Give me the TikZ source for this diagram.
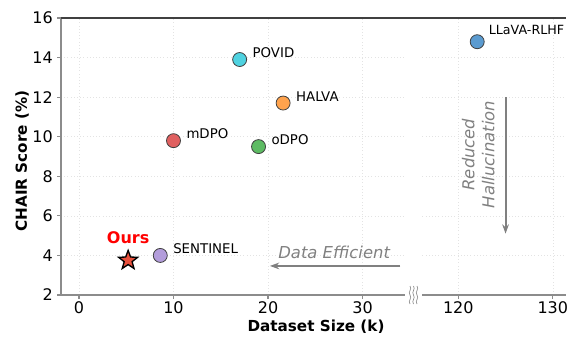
\documentclass[tikz,border=0pt]{standalone}
\usepackage{fontspec}
\setmainfont{DejaVu Sans}
\usetikzlibrary{shapes.geometric, arrows.meta, positioning}
\definecolor{cllava}{HTML}{5B9BD0}
\definecolor{cpovid}{HTML}{4FD2E0}
\definecolor{chalva}{HTML}{FFA34D}
\definecolor{cmdpo}{HTML}{E06060}
\definecolor{codpo}{HTML}{5DBB63}
\definecolor{csentinel}{HTML}{B39DDB}
\definecolor{cours}{HTML}{E8503C}
\definecolor{spinegray}{HTML}{8C8C8C}
\definecolor{hintgray}{HTML}{808080}

\begin{document}
\begin{tikzpicture}[
    x=0.75pt, y=-0.75pt,
    datapt/.style={circle, draw=black!75, line width=0.6pt, minimum size=10.5pt, inner sep=0pt},
    ptlabel/.style={font=\fontsize{10}{12}\selectfont, inner sep=1pt, yshift=5pt},
    ticklbl/.style={font=\fontsize{12}{14}\selectfont, inner sep=1pt},
    axlabel/.style={font=\bfseries\fontsize{11.4}{13}\selectfont},
    hint/.style={font=\itshape\fontsize{12.3}{15}\selectfont, text=hintgray, align=center},
    hintarrow/.style={-{Stealth[length=7pt,width=5pt]}, line width=1.5pt, hintgray},
    gridline/.style={gray!22, dotted, line width=0.4pt},
    spine/.style={spinegray, line width=0.9pt}
]
    \path[use as bounding box] (0,0) rectangle (567,336);

    % Left panel (small datasets)
    \begin{scope}[shift={(79,334.6)}, x=7.0875pt, y=14.8425pt]
        \foreach \gx in {0,10,20,30} \draw[gridline] (\gx,2) -- (\gx,16);
        \foreach \gy in {4,6,...,14} \draw[gridline] (-1.9,\gy) -- (34.5,\gy);
        \draw[spine] (-1.9,16) -- (-1.9,2) -- (34.5,2);
        \foreach \gx in {0,10,20,30} {
            \draw[spine] (\gx,2) -- ++(0pt,-3pt);
            \node[ticklbl, anchor=north] at (\gx,1.75) {\gx};
        }
        \foreach \gy in {2,4,...,16} {
            \draw[spine] (-1.9,\gy) -- ++(-3pt,0pt);
            \node[ticklbl, anchor=east] at (-2.6,\gy) {\gy};
        }

        % Methods
        \node[datapt, fill=cpovid] (povid) at (17,13.9) {};
        \node[datapt, fill=chalva] (halva) at (21.6,11.7) {};
        \node[datapt, fill=cmdpo] (mdpo) at (10,9.8) {};
        \node[datapt, fill=codpo] (odpo) at (19,9.5) {};
        \node[datapt, fill=csentinel] (sentinel) at (8.6,4.0) {};
        \node[star, star points=5, star point ratio=2.4, minimum size=15pt, inner sep=0pt,
              draw=black, line width=1pt, fill=cours] (ours) at (5.2,3.75) {};

        \node[ptlabel, right=3pt of povid] {POVID};
        \node[ptlabel, right=3pt of halva] {HALVA};
        \node[ptlabel, right=3pt of mdpo] {mDPO};
        \node[ptlabel, right=3pt of odpo] {oDPO};
        \node[ptlabel, right=3pt of sentinel] {SENTINEL};
        \node[above=0pt of ours, text=red, font=\bfseries\fontsize{12}{14}\selectfont] {Ours};

        % Data efficiency hint
        \coordinate (effstart) at (34.0,3.47);
        \coordinate (effend) at (20.2,3.47);
        \draw[hintarrow] (effstart) -- (effend);
        \node[hint] (effnote) at (27.0,4.15) {Data Efficient};
    \end{scope}

    % Right panel (large datasets)
    \begin{scope}[shift={(-675.7,334.6)}, x=7.0875pt, y=14.8425pt]
        \foreach \gx in {120,130} \draw[gridline] (\gx,2) -- (\gx,16);
        \foreach \gy in {4,6,...,14} \draw[gridline] (116.2,\gy) -- (131.3,\gy);
        \draw[spine] (116.2,2) -- (131.4,2);
        \foreach \gx in {120,130} {
            \draw[spine] (\gx,2) -- ++(0pt,-3pt);
            \node[ticklbl, anchor=north] at (\gx,1.75) {\gx};
        }

        \node[datapt, fill=cllava] (llava) at (122,14.8) {};
        \node[ptlabel, right=2pt of llava, yshift=3.5pt, font=\fontsize{9.5}{11}\selectfont] {LLaVA-RLHF};

        % Hallucination hint
        \coordinate (hallstart) at (125,12);
        \coordinate (hallend) at (125,5.1);
        \draw[hintarrow] (hallstart) -- (hallend);
        \node[hint, rotate=90] (hallnote) at (122.1,9.1) {Reduced\\Hallucination};
    \end{scope}

    % Top spine and axis break
    \draw[black!75, line width=0.9pt] (61,18) -- (566,18);
    \foreach \bx in {410,413.5,417}
        \draw[spinegray, line width=0.5pt] (\bx,286) .. controls (\bx+2.5,289) and (\bx-2.5,292) .. (\bx,295)
            .. controls (\bx+2.5,298) and (\bx-2.5,301) .. (\bx,304);

    % Axis titles
    \node[axlabel] (xtitle) at (316,327) {Dataset Size (k)};
    \node[axlabel, rotate=90] (ytitle) at (22,161) {CHAIR Score (\%)};
\end{tikzpicture}
\end{document}
